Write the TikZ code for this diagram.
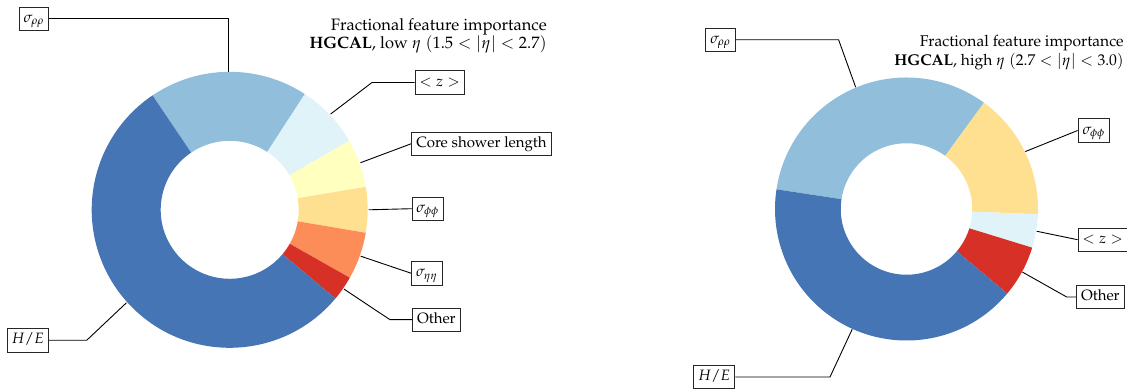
\documentclass[tikz,border=0pt]{standalone}
\usepackage[T1]{fontenc}
\usepackage{mathpazo}
\definecolor{heC}{HTML}{4575B4}
\definecolor{rhoC}{HTML}{91BFDB}
\definecolor{zC}{HTML}{E0F3F8}
\definecolor{cslC}{HTML}{FFFFBF}
\definecolor{phiC}{HTML}{FEE090}
\definecolor{etaC}{HTML}{FC8D59}
\definecolor{othC}{HTML}{D73027}
\tikzset{
  lbl/.style={draw=black!85, line width=0.6pt, fill=white, inner xsep=3pt,
              inner ysep=2.8pt, text height=7.4pt, text depth=2.6pt},
  lead/.style={draw=black, line width=0.6pt},
  ttl/.style={anchor=north east, inner sep=0pt, align=right}
}
% ring segment: centre, outer radius, inner radius, start angle, end angle (clockwise), colour
\newcommand\ringpart[6]{%
  \fill[#6] (#1) ++({-(#4)}:#2) arc[start angle={-(#4)}, end angle={-(#5)}, radius=#2]
    -- ++({-(#5)}:-#3) arc[start angle={-(#5)}, end angle={-(#4)}, radius=#3] -- cycle;}
\begin{document}
\begin{tikzpicture}[x=0.6667pt, y=-0.6667pt]
\useasboundingbox (0,0) rectangle (1127,390);

% ---------- low eta ----------
\coordinate (Lc) at (229.7,209.8);
\ringpart{Lc}{138}{69}{124}{57}{rhoC}
\ringpart{Lc}{138}{69}{57}{30}{zC}
\ringpart{Lc}{138}{69}{30}{9.6}{cslC}
\ringpart{Lc}{138}{69}{9.6}{-9.6}{phiC}
\ringpart{Lc}{138}{69}{-9.6}{-29.5}{etaC}
\ringpart{Lc}{138}{69}{-29.5}{-40}{othC}
\ringpart{Lc}{138}{69}{-40}{-236}{heC}

\path (Lc) ++(-90.5:138) coordinate (Lrho);
\path (Lc) ++(-43.5:139) coordinate (Lz);
\path (Lc) ++(-19.8:139) coordinate (Lcsl);
\path (Lc) ++(0:139) coordinate (Lphi);
\path (Lc) ++(19.5:139) coordinate (Leta);
\path (Lc) ++(34.75:139) coordinate (Loth);
\path (Lc) ++(138:139) coordinate (Lhe);

\node[ttl, font=\fontsize{11}{11.8}\selectfont] (Lt) at (547,18.5)
  {Fractional feature importance\\ \textbf{HGCAL}, low $\eta$ $(1.5<|\eta|<2.7)$};

\node[lbl] (lrho) at (33.9,18.9) {$\sigma_{\rho\rho}$};
\node[lbl] (lz) at (439.7,82.5) {$<z>$};
\node[lbl] (lcsl) at (481.4,143.7) {Core shower length};
\node[lbl] (lphi) at (427.7,208.7) {$\sigma_{\phi\phi}$};
\node[lbl] (leta) at (427,273.3) {$\sigma_{\eta\eta}$};
\node[lbl] (loth) at (436.4,319.7) {Other};
\node[lbl] (lhe) at (27.8,340.3) {$H/E$};

\coordinate (Lzk) at (372,82.5);
\coordinate (Lothk) at (390,319.7);
\coordinate (Lhek) at (86.7,340.3);
\draw[lead] (Lrho) |- (lrho.east);
\draw[lead] (Lz) -- (Lzk) -- (lz.west);
\draw[lead] (Lcsl) -- (lcsl.west);
\draw[lead] (Lphi) -- (lphi.west);
\draw[lead] (Leta) -- (leta.west);
\draw[lead] (Loth) -- (Lothk) -- (loth.west);
\draw[lead] (Lhe) -- (Lhek) -- (lhe.east);

% ---------- high eta ----------
\coordinate (Rc) at (906.5,209);
\ringpart{Rc}{131.5}{65.75}{171.4}{53.9}{rhoC}
\ringpart{Rc}{131.5}{65.75}{53.9}{-2.3}{phiC}
\ringpart{Rc}{131.5}{65.75}{-2.3}{-17.1}{zC}
\ringpart{Rc}{131.5}{65.75}{-17.1}{-40}{othC}
\ringpart{Rc}{131.5}{65.75}{-40}{-188.6}{heC}

\path (Rc) ++(-112.65:132) coordinate (Rrho);
\path (Rc) ++(-25.8:132) coordinate (Rphi);
\path (Rc) ++(9.7:132) coordinate (Rz);
\path (Rc) ++(28.55:132) coordinate (Roth);
\path (Rc) ++(114.3:132) coordinate (Rhe);

\node[ttl, font=\fontsize{10.4}{12.5}\selectfont] (Rt) at (1124,35.3)
  {Fractional feature importance\\ \textbf{HGCAL}, high $\eta$ $(2.7<|\eta|<3.0)$};

\node[lbl] (rrho) at (720.6,39.8) {$\sigma_{\rho\rho}$};
\node[lbl] (rphi) at (1093.8,130.5) {$\sigma_{\phi\phi}$};
\node[lbl] (rz) at (1102.7,239.7) {$<z>$};
\node[lbl] (roth) at (1100.4,297) {Other};
\node[lbl] (rhe) at (714.2,377) {$H/E$};

\coordinate (Rrhok) at (838.6,39.8);
\coordinate (Rothk) at (1066.7,297);
\coordinate (Rhek) at (830,377);
\draw[lead] (Rrho) -- (Rrhok) -- (rrho.east);
\draw[lead] (Rphi) -- (rphi.west);
\draw[lead] (Rz) -- (rz.west);
\draw[lead] (Roth) -- (Rothk) -- (roth.west);
\draw[lead] (Rhe) -- (Rhek) -- (rhe.east);
\end{tikzpicture}
\end{document}
